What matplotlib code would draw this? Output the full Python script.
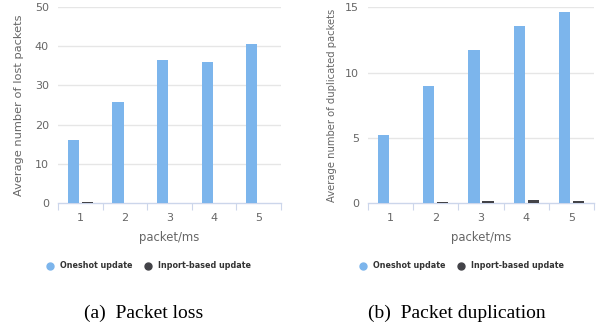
import numpy as np
import matplotlib.pyplot as plt
from matplotlib.lines import Line2D

# packets per ms on the x axis
rates = ['1', '2', '3', '4', '5']

# (a) lost packets
loss_oneshot = [16.1, 25.8, 36.5, 36.0, 40.6]
loss_inport = [0.35, 0.08, 0.1, 0.1, 0.08]

# (b) duplicated packets
dup_oneshot = [5.23, 8.97, 11.73, 13.57, 14.64]
dup_inport = [0.05, 0.13, 0.18, 0.28, 0.18]

BLUE = '#7cb5ec'
DARK = '#434348'
GRID = '#e6e6e6'
AXIS = '#ccd6eb'
TEXT = '#666666'

W, H = 602, 327
fig = plt.figure(figsize=(W / 100, H / 100), dpi=100)


def panel(x0, x1, y0, y1, one, inport, ymax, ystep, ylabel, ylabel_x, ylabel_size,
          legend_x, caption, caption_x):
    ax = fig.add_axes([x0 / W, 1 - y1 / H, (x1 - x0) / W, (y1 - y0) / H])
    x = np.arange(len(rates))
    bw = 0.25
    ax.bar(x - 0.155, one, bw, color=BLUE, zorder=3)
    ax.bar(x + 0.155, inport, bw, color=DARK, zorder=3)
    ax.set_xlim(-0.5, len(rates) - 0.5)
    ax.set_ylim(0, ymax)

    yt = np.arange(0, ymax + 0.01, ystep)
    ax.set_yticks(yt)
    ax.set_yticklabels([f'{v:g}' for v in yt])
    for v in yt[1:]:
        ax.axhline(v, color=GRID, lw=1, zorder=1)

    ax.set_xticks(x)
    ax.set_xticklabels(rates)
    ax.set_xticks(np.arange(-0.5, len(rates)), minor=True)
    ax.tick_params(axis='x', which='major', length=0, pad=7, labelsize=8, labelcolor=TEXT)
    ax.tick_params(axis='x', which='minor', length=5, width=0.8, color=AXIS)
    ax.tick_params(axis='y', length=0, pad=6.5, labelsize=8, labelcolor=TEXT)

    for s in ['top', 'right', 'left']:
        ax.spines[s].set_visible(False)
    ax.spines['bottom'].set_color(AXIS)
    ax.spines['bottom'].set_linewidth(1)

    ax.set_ylabel(ylabel, fontsize=ylabel_size, color=TEXT)
    ax.yaxis.set_label_coords((ylabel_x - x0) / (x1 - x0), 0.5)
    ax.yaxis.label.set_verticalalignment('center')
    ax.set_xlabel('packet/ms', fontsize=8.4, color=TEXT)
    ax.xaxis.set_label_coords(0.5, (y1 - 238) / (y1 - y0))
    ax.xaxis.label.set_verticalalignment('center')

    handles = [
        Line2D([], [], marker='o', ls='none', ms=5, mfc=BLUE, mec=BLUE, label='Oneshot update'),
        Line2D([], [], marker='o', ls='none', ms=5, mfc=DARK, mec=DARK, label='Inport-based update'),
    ]
    leg = fig.legend(handles=handles, loc='center', bbox_to_anchor=(legend_x / W, 1 - 266 / H),
                     ncol=2, frameon=False, prop={'size': 5.8, 'weight': 'bold'},
                     handletextpad=0.75, columnspacing=1.5, handlelength=1.0,
                     borderpad=0, borderaxespad=0)
    for t in leg.get_texts():
        t.set_color('#333333')

    fig.text(caption_x / W, 1 - 313 / H, caption, ha='center', va='center',
             fontsize=14, family='Liberation Serif')
    return ax


panel(58, 281, 7, 203, loss_oneshot, loss_inport, 50, 10,
      'Average number of lost packets', 18.5, 8.2, 148.5, '(a)  Packet loss', 144)
panel(368, 594, 7.3, 203.3, dup_oneshot, dup_inport, 15, 5,
      'Average number of duplicated packets', 332, 7.2, 461.5, '(b)  Packet duplication', 457)

fig.savefig('out.png', dpi=100)
